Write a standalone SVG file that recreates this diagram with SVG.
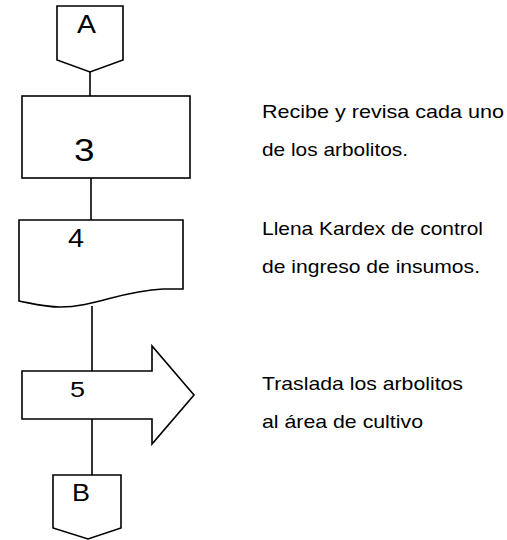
<svg xmlns="http://www.w3.org/2000/svg" width="507" height="540" viewBox="0 0 507 540">
<style>
.s{fill:#fff;stroke:#000;stroke-width:1.6;stroke-linejoin:miter}
.c{fill:none;stroke:#000;stroke-width:1.6}
.t{font-family:"Liberation Sans",Arial,sans-serif;fill:#000}
.d{font-family:"Liberation Sans",Arial,sans-serif;fill:#000;font-size:19px}
</style>
<rect width="507" height="540" fill="#fff"/>
<g id="connectors">
<line class="c" x1="90" y1="72" x2="90" y2="96"/>
<line class="c" x1="91" y1="178" x2="91" y2="220"/>
<line class="c" x1="92" y1="306" x2="92" y2="371"/>
<line class="c" x1="92" y1="419" x2="92" y2="475"/>
</g>
<g id="nodeA">
<polygon class="s" points="57,6 123,6 123,60 90,72 57,60"/>
<text class="t" x="77" y="33" font-size="25" textLength="19" lengthAdjust="spacingAndGlyphs">A</text>
</g>
<g id="node3">
<rect class="s" x="22" y="96" width="168" height="82"/>
<text class="t" x="74" y="161" font-size="32" textLength="20.5" lengthAdjust="spacingAndGlyphs">3</text>
</g>
<g id="node4">
<path class="s" d="M19,220 H183 V289 H163 C120,291 95,307 60,307 C45,307 30,303 19,301 Z"/>
<text class="t" x="68" y="247" font-size="25" textLength="16" lengthAdjust="spacingAndGlyphs">4</text>
</g>
<g id="node5">
<path class="s" d="M22,371 H152 V346 L194,395 L152,444 V419 H22 Z"/>
<text class="t" x="70" y="397" font-size="22" textLength="15" lengthAdjust="spacingAndGlyphs">5</text>
</g>
<g id="nodeB">
<polygon class="s" points="53,475 121,475 121,528 88,539 53,528"/>
<text class="t" x="72" y="501" font-size="23" textLength="18" lengthAdjust="spacingAndGlyphs">B</text>
</g>
<g id="desc">
<text class="d" x="262" y="118" textLength="242" lengthAdjust="spacingAndGlyphs">Recibe y revisa cada uno</text>
<text class="d" x="262" y="156" textLength="146" lengthAdjust="spacingAndGlyphs">de los arbolitos.</text>
<text class="d" x="262" y="235" textLength="221" lengthAdjust="spacingAndGlyphs">Llena Kardex de control</text>
<text class="d" x="262" y="273" textLength="218" lengthAdjust="spacingAndGlyphs">de ingreso de insumos.</text>
<text class="d" x="262" y="390" textLength="201" lengthAdjust="spacingAndGlyphs">Traslada los arbolitos</text>
<text class="d" x="262" y="428" textLength="161" lengthAdjust="spacingAndGlyphs">al área de cultivo</text>
</g>
</svg>
